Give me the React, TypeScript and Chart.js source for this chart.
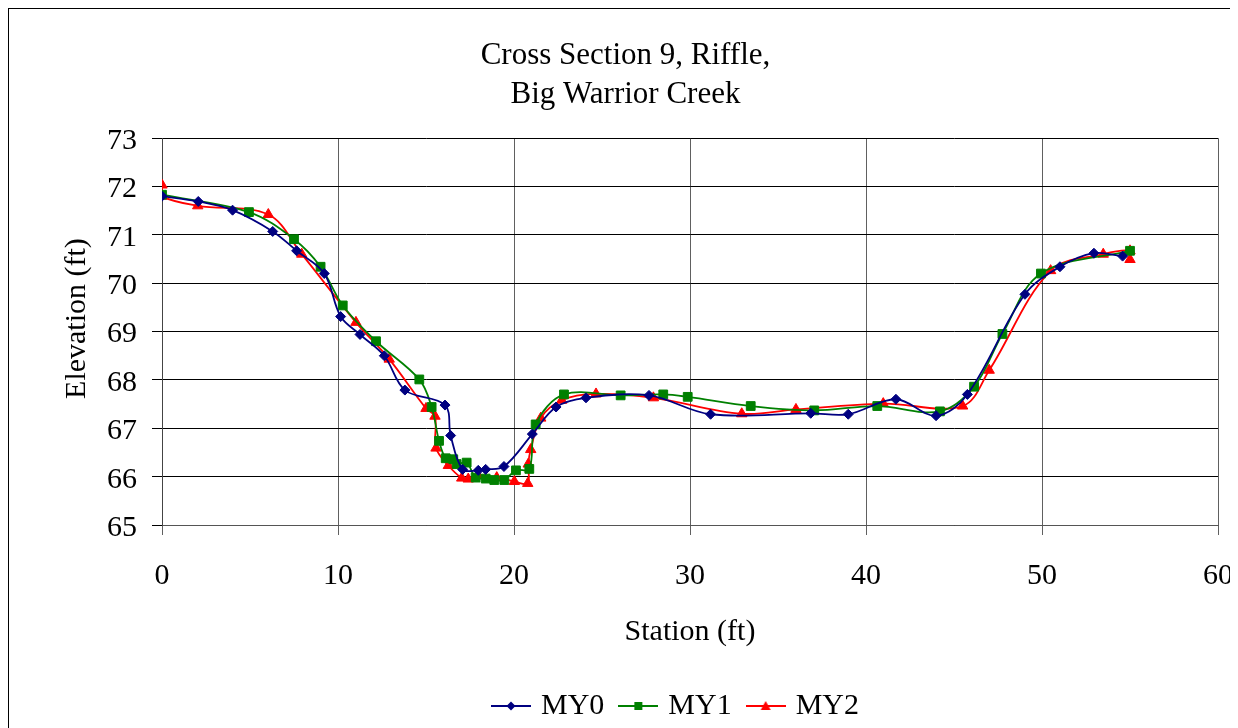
import React, { useEffect, useRef } from "react";
import { Chart, registerables } from "chart.js";

Chart.register(...registerables);

const TITLE_LINES = ["Cross Section 9, Riffle,", "Big Warrior Creek"];
const X_TITLE = "Station (ft)";
const Y_TITLE = "Elevation (ft)";

const MY0_X = [0, 2.06, 4.01, 6.29, 7.65, 9.22, 10.15, 11.25, 12.63, 13.8, 16.08, 16.4, 17.08, 17.97, 18.39, 19.43, 21.04, 22.39, 24.09, 27.67, 31.17, 36.86, 38.99, 41.7, 43.98, 45.76, 49.03, 51.02, 52.95, 54.58];
const MY0_Y = [71.8, 71.69, 71.51, 71.07, 70.67, 70.2, 69.31, 68.94, 68.5, 67.79, 67.48, 66.85, 66.15, 66.13, 66.15, 66.21, 66.88, 67.44, 67.63, 67.68, 67.29, 67.31, 67.29, 67.6, 67.26, 67.7, 69.77, 70.34, 70.62, 70.56];

const MY1_X = [0, 4.94, 7.5, 9.01, 10.27, 12.16, 14.62, 15.32, 15.74, 16.12, 16.55, 16.74, 17.31, 17.82, 18.39, 18.88, 19.45, 20.11, 20.87, 21.23, 22.84, 26.06, 28.48, 29.87, 33.45, 37.06, 40.64, 44.2, 46.14, 47.75, 49.94, 55.0];
const MY1_Y = [71.83, 71.47, 70.91, 70.34, 69.54, 68.8, 68.01, 67.44, 66.74, 66.38, 66.36, 66.26, 66.29, 65.98, 65.96, 65.93, 65.93, 66.13, 66.16, 67.08, 67.7, 67.68, 67.7, 67.65, 67.46, 67.37, 67.46, 67.35, 67.86, 68.95, 70.2, 70.67];

const MY2_X = [0, 0, 2.03, 6.04, 7.94, 11.02, 12.91, 15.0, 15.51, 15.57, 16.27, 17.03, 17.4, 17.97, 19.02, 20.02, 20.78, 20.81, 20.95, 21.52, 22.71, 24.66, 27.92, 32.94, 36.02, 40.98, 45.49, 47.0, 50.49, 53.48, 55.0, 55.0];
const MY2_Y = [72.03, 71.8, 71.6, 71.42, 70.6, 69.19, 68.43, 67.41, 67.25, 66.59, 66.23, 65.97, 65.95, 66.02, 65.98, 65.9, 65.86, 66.26, 66.56, 67.21, 67.58, 67.71, 67.63, 67.3, 67.39, 67.51, 67.46, 68.2, 70.26, 70.6, 70.67, 70.49];

const SERIES_NAMES = ["MY0", "MY1", "MY2"];
const X_MIN = 0, X_MAX = 60, X_STEP = 10;
const Y_MIN = 65, Y_MAX = 73, Y_STEP = 1;

const COLORS = ["#000080", "#008000", "#FF0000"];
const STYLES: any[] = ["rectRot", "rect", "triangle"];
const RADII = [5, 6.2, 6];

const FONT = "'Liberation Serif', 'Times New Roman', serif";

function toPoints(xs: number[], ys: number[]) {
  return xs.map((x, i) => ({ x, y: ys[i] }));
}

function makeIcon(color: string, style: string) {
  const c = document.createElement("canvas");
  c.width = 40;
  c.height = 14;
  const ctx = c.getContext("2d")!;
  ctx.strokeStyle = color;
  ctx.lineWidth = 2;
  ctx.beginPath();
  ctx.moveTo(0, 7);
  ctx.lineTo(40, 7);
  ctx.stroke();
  ctx.fillStyle = color;
  ctx.beginPath();
  if (style === "rectRot") {
    ctx.moveTo(20, 2.5);
    ctx.lineTo(24.5, 7);
    ctx.lineTo(20, 11.5);
    ctx.lineTo(15.5, 7);
    ctx.closePath();
  } else if (style === "rect") {
    ctx.rect(16, 3, 8, 8);
  } else {
    ctx.moveTo(20, 2);
    ctx.lineTo(25, 11);
    ctx.lineTo(15, 11);
    ctx.closePath();
  }
  ctx.fill();
  return c;
}

const layoutTweaks = {
  id: "layoutTweaks",
  afterLayout(chart: any) {
    if (chart.legend) {
      chart.legend.left += 64;
      chart.legend.right += 64;
    }
    if (chart.titleBlock) {
      chart.titleBlock.left += 12;
      chart.titleBlock.right += 12;
    }
    const ys = chart.scales.y;
    if (ys && !ys.__shifted) {
      ys.__shifted = true;
      const orig = ys.drawTitle;
      ys.drawTitle = function (...args: any[]) {
        const ctx = this.ctx;
        ctx.save();
        ctx.translate(0, -13);
        orig.apply(this, args);
        ctx.restore();
      };
    }
  },
};

export default function App() {
  const ref = useRef<HTMLCanvasElement | null>(null);

  useEffect(() => {
    document.documentElement.style.overflow = "hidden";
    const canvas = ref.current!;
    Chart.defaults.font.family = FONT;
    Chart.defaults.color = "#000";
    const icons = COLORS.map((c, i) => makeIcon(c, STYLES[i]));
    const seriesX = [MY0_X, MY1_X, MY2_X];
    const seriesY = [MY0_Y, MY1_Y, MY2_Y];

    const chart = new Chart(canvas, {
      type: "scatter",
      data: {
        datasets: SERIES_NAMES.map((name, i) => ({
          label: name,
          data: toPoints(seriesX[i], seriesY[i]),
          showLine: true,
          borderColor: COLORS[i],
          backgroundColor: COLORS[i],
          borderWidth: 1.8,
          tension: 0.35,
          pointStyle: STYLES[i],
          pointRadius: RADII[i],
          pointBorderWidth: 1,
          pointBackgroundColor: COLORS[i],
          pointBorderColor: COLORS[i],
        })),
      },
      plugins: [layoutTweaks],
      options: {
        animation: false,
        responsive: false,
        maintainAspectRatio: false,
        layout: { padding: { top: 0, left: 0, right: 19, bottom: 8 } },
        plugins: {
          title: {
            display: true,
            text: TITLE_LINES,
            color: "#000",
            font: { family: FONT, size: 31, weight: "normal", lineHeight: 1.26 },
            padding: { top: 27, bottom: 24 },
          },
          legend: {
            display: true,
            position: "bottom",
            labels: {
              usePointStyle: true,
              pointStyleWidth: 30,
              padding: 19,
              color: "#000",
              font: { family: FONT, size: 30 },
              generateLabels: (ch: any) => {
                const items = (Chart.defaults.plugins.legend.labels as any).generateLabels(ch);
                items.forEach((it: any, i: number) => {
                  it.pointStyle = icons[i];
                  it.rotation = 0;
                });
                return items;
              },
            },
          },
          tooltip: { enabled: false },
        },
        scales: {
          x: {
            type: "linear",
            min: X_MIN,
            max: X_MAX,
            ticks: {
              stepSize: X_STEP,
              padding: 23,
              color: "#000",
              font: { family: FONT, size: 30 },
              maxRotation: 0,
            },
            grid: { color: "#606060", lineWidth: 1, tickLength: 10, drawTicks: true },
            border: { display: true, color: "#555", width: 1 },
            title: {
              display: true,
              text: X_TITLE,
              color: "#000",
              font: { family: FONT, size: 30, lineHeight: 1.2 },
              padding: { top: 0, bottom: 22 },
            },
            afterFit: (s: any) => {
              s.height = 147;
              s.paddingLeft = 0;
              s.paddingRight = 0;
            },
          },
          y: {
            type: "linear",
            min: Y_MIN,
            max: Y_MAX,
            ticks: {
              stepSize: Y_STEP,
              padding: 15,
              labelOffset: 3,
              color: "#000",
              font: { family: FONT, size: 30 },
            },
            grid: { color: "#000", lineWidth: 1, tickLength: 10, drawTicks: true },
            border: { display: true, color: "#444", width: 1 },
            title: {
              display: true,
              text: Y_TITLE,
              color: "#000",
              font: { family: FONT, size: 30, lineHeight: 1.2 },
              padding: { top: 50, bottom: 0 },
            },
            afterFit: (s: any) => {
              s.width = 153;
              s.paddingTop = 0;
              s.paddingBottom = 0;
            },
          },
        },
      } as any,
    });
    return () => chart.destroy();
  }, []);

  return (
    <div style={{ width: 1228, border: "1px solid #000" }}>
      <canvas ref={ref} width={1228} height={730} style={{ display: "block", width: 1228, height: 730 }} />
    </div>
  );
}
